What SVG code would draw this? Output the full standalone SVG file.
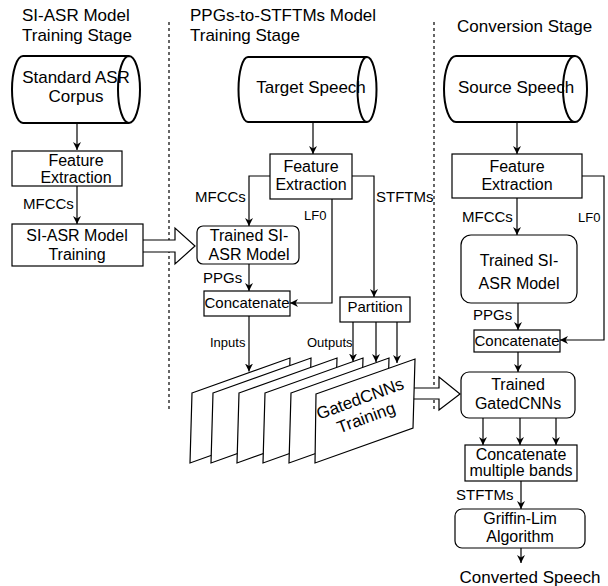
<svg xmlns="http://www.w3.org/2000/svg" width="608" height="586" viewBox="0 0 608 586">
<defs>
<marker id="ah" viewBox="0 0 10 10" refX="10" refY="5" markerWidth="8" markerHeight="8" markerUnits="userSpaceOnUse" orient="auto">
<path d="M0,0 L10,5 L0,10 L3,5 z" fill="#000"/>
</marker>
<style>
text{font-family:"Liberation Sans",Arial,sans-serif;fill:#000}
.t{font-size:17px}
.b{font-size:16px;text-anchor:middle}
.s{font-size:15px}
.xs{font-size:13px}
.box{fill:#fff;stroke:#000;stroke-width:1.2}
.cyl{fill:#fff;stroke:#000;stroke-width:2}
.ln{fill:none;stroke:#000;stroke-width:1.2}
.ar{fill:none;stroke:#000;stroke-width:1.2;marker-end:url(#ah)}
.dash{fill:none;stroke:#000;stroke-width:1.2;stroke-dasharray:3,3}
.hol{fill:#fff;stroke:#000;stroke-width:1.2}
</style>
</defs>
<rect width="608" height="586" fill="#fff"/>

<g id="titles">
<text class="t" x="22" y="21">SI-ASR Model</text>
<text class="t" x="22" y="41">Training Stage</text>
<text class="t" x="190" y="21">PPGs-to-STFTMs Model</text>
<text class="t" x="190" y="41">Training Stage</text>
<text class="t" x="457" y="32">Conversion Stage</text>
</g>

<g id="dividers">
<line class="dash" x1="169" y1="22" x2="169" y2="410"/>
<line class="dash" x1="434" y1="22" x2="434" y2="410"/>
</g>

<g id="connectors">
<line class="ar" x1="77" y1="123" x2="77" y2="150"/>
<line class="ar" x1="77" y1="186" x2="77" y2="224"/>
<line class="ar" x1="313" y1="122" x2="313" y2="154"/>
<polyline class="ar" points="270,176 249,176 249,226"/>
<polyline class="ar" points="352,176 374,176 374,297"/>
<polyline class="ar" points="332,199 332,303 290,303"/>
<line class="ar" x1="249" y1="264" x2="249" y2="291"/>
<line class="ar" x1="249" y1="316" x2="249" y2="371.5"/>
<line class="ar" x1="353" y1="322" x2="353" y2="361.5"/>
<line class="ar" x1="376" y1="322" x2="376" y2="362"/>
<line class="ar" x1="397" y1="322" x2="397" y2="363"/>
<line class="ar" x1="517" y1="122" x2="517" y2="154"/>
<line class="ar" x1="517" y1="198" x2="517" y2="235"/>
<polyline class="ar" points="582,176 604,176 604,340 560,340"/>
<line class="ar" x1="518" y1="303" x2="518" y2="330"/>
<line class="ar" x1="518" y1="352" x2="518" y2="372"/>
<line class="ar" x1="483" y1="418" x2="483" y2="445"/>
<line class="ar" x1="520" y1="418" x2="520" y2="445"/>
<line class="ar" x1="556" y1="418" x2="556" y2="445"/>
<line class="ar" x1="521" y1="481" x2="521" y2="509"/>
<line class="ar" x1="521" y1="548" x2="521" y2="563"/>
<path class="hol" d="M143,240 L175,240 L175,228 L195,246 L175,264 L175,252 L143,252"/>
<path class="hol" d="M413,388 L439,388 L439,377 L460,394 L439,410 L439,399 L413,399"/>
</g>

<g id="labels">
<text class="s" x="23" y="209">MFCCs</text>
<text class="s" x="195" y="202">MFCCs</text>
<text class="xs" x="304" y="220">LF0</text>
<text class="s" x="376" y="202">STFTMs</text>
<text class="s" x="203" y="283">PPGs</text>
<text class="xs" x="210" y="347">Inputs</text>
<text class="xs" x="307" y="347">Outputs</text>
<text class="s" x="462" y="222">MFCCs</text>
<text class="xs" x="578" y="222">LF0</text>
<text class="s" x="473" y="320">PPGs</text>
<text class="s" x="456" y="500">STFTMs</text>
<text class="t" x="530" y="583" text-anchor="middle">Converted Speech</text>
</g>

<g id="asr-corpus">
<path class="cyl" d="M23,56 A11,33.5 0 0 0 23,123 L129,123 A11,33.5 0 0 0 129,56 Z M129,56 A11,33.5 0 0 0 129,123"/>
<text class="t" x="76" y="83" text-anchor="middle">Standard ASR</text>
<text class="t" x="76" y="102" text-anchor="middle">Corpus</text>
</g>
<g id="fe-left">
<rect class="box" x="12" y="151" width="110" height="35"/>
<text class="b" x="76" y="166">Feature</text>
<text class="b" x="76" y="183">Extraction</text>
</g>
<g id="si-asr-train">
<rect class="box" x="12" y="224" width="131" height="42"/>
<text class="b" x="77" y="241">SI-ASR Model</text>
<text class="b" x="77" y="260">Training</text>
</g>

<g id="target-speech">
<path class="cyl" d="M248,57 A9.5,32.5 0 0 0 248,122 L367,122 A9.5,32.5 0 0 0 367,57 Z M367,57 A9.5,32.5 0 0 0 367,122"/>
<text class="t" x="311" y="93" text-anchor="middle">Target Speech</text>
</g>
<g id="fe-mid">
<rect class="box" x="270" y="154" width="82" height="45"/>
<text class="b" x="311" y="172">Feature</text>
<text class="b" x="311" y="190">Extraction</text>
</g>
<g id="trained-asr-mid">
<rect class="box" x="197" y="226" width="102" height="38" rx="6"/>
<text class="b" x="249" y="241">Trained SI-</text>
<text class="b" x="249" y="260">ASR Model</text>
</g>
<g id="concat-mid">
<rect class="box" x="204" y="291" width="86" height="25"/>
<text class="s" x="247" y="308" text-anchor="middle">Concatenate</text>
</g>
<g id="partition">
<rect class="box" x="340" y="297" width="70" height="25"/>
<text class="s" x="375" y="312" text-anchor="middle">Partition</text>
</g>
<g id="gatedcnns-training">
<polygon class="box" points="192,393 290,358 288,428 190,463"/>
<polygon class="box" points="213,393 311,358 309,428 211,463"/>
<polygon class="box" points="239,393 337,358 335,428 237,463"/>
<polygon class="box" points="265,393 363,358 361,428 263,463"/>
<polygon class="box" points="291,393 389,358 387,428 289,463"/>
<polygon class="box" points="316,394 415,359 413,428 315,463"/>
<text class="t" text-anchor="middle" transform="translate(362,404) rotate(-20)">GatedCNNs</text>
<text class="t" text-anchor="middle" transform="translate(368,423) rotate(-20)">Training</text>
</g>

<g id="source-speech">
<path class="cyl" d="M456,56 A12,33 0 0 0 456,122 L575,122 A12,33 0 0 0 575,56 Z M575,56 A12,33 0 0 0 575,122"/>
<text class="t" x="516" y="93" text-anchor="middle">Source Speech</text>
</g>
<g id="fe-right">
<rect class="box" x="452" y="154" width="130" height="44"/>
<text class="b" x="517" y="172">Feature</text>
<text class="b" x="517" y="190">Extraction</text>
</g>
<g id="trained-asr-right">
<rect class="box" x="461" y="235" width="116" height="68" rx="10"/>
<text class="b" x="519" y="266">Trained SI-</text>
<text class="b" x="519" y="289">ASR Model</text>
</g>
<g id="concat-right">
<rect class="box" x="474" y="330" width="86" height="22"/>
<text class="s" x="517" y="346" text-anchor="middle">Concatenate</text>
</g>
<g id="trained-gatedcnns">
<rect class="box" x="461" y="372" width="114" height="46" rx="8"/>
<text class="b" x="518" y="390">Trained</text>
<text class="b" x="518" y="409">GatedCNNs</text>
</g>
<g id="concat-bands">
<rect class="box" x="465" y="445" width="112" height="36"/>
<text class="b" x="521" y="460">Concatenate</text>
<text class="b" x="521" y="476">multiple bands</text>
</g>
<g id="griffin-lim">
<rect class="box" x="455" y="509" width="130" height="39" rx="7"/>
<text class="b" x="520" y="524">Griffin-Lim</text>
<text class="b" x="520" y="542">Algorithm</text>
</g>
</svg>
